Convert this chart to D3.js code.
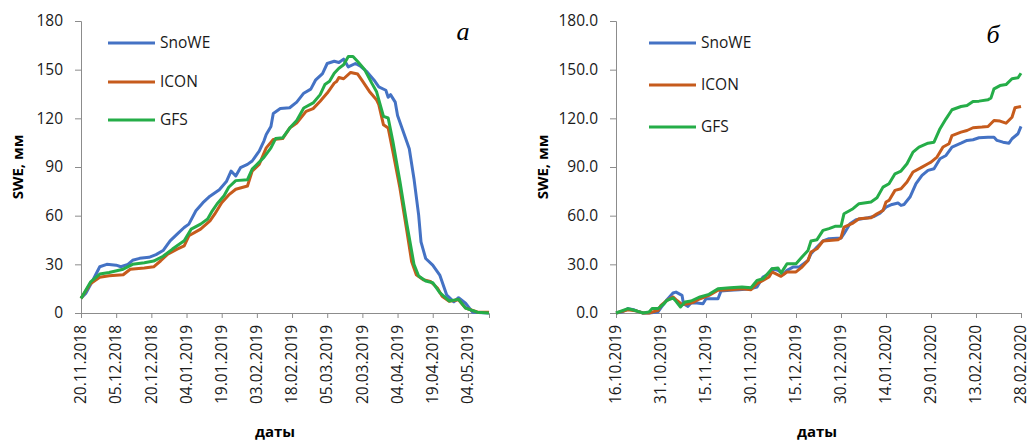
<!DOCTYPE html>
<html>
<head>
<meta charset="utf-8">
<script src="https://cdn.jsdelivr.net/npm/d3@7"></script>
<style>
  body { margin: 0; background: #fff; }
  svg { font-family: "Open Sans", "Noto Sans", sans-serif; }
  .tick text { fill: #1a1a1a; }
  .domain, .tick line { stroke: #8c8c8c; }
</style>
</head>
<body>
<div id="chart"></div>
<script>
// ---- data ----
var seriesNames = ["SnoWE", "ICON", "GFS"];
var seriesColors = ["#4472c4", "#c65b1c", "#25ad48"];
var yTicks = [0, 30, 60, 90, 120, 150, 180];

// panel a: days counted from 20.11.2018
var startA = new Date(2018, 10, 20);
var endDayA = 174;
var snoweDaysA = [0, 2, 5, 8, 11, 15, 17, 20, 22, 25, 29, 32, 35, 38, 41, 44, 46, 49, 52, 55, 59, 62, 64, 66, 68, 71, 73, 76, 78, 79, 81, 82, 85, 89, 92, 95, 98, 100, 103, 105, 108, 110, 112, 114, 117, 119, 122, 125, 127, 130, 131, 132, 134, 135, 137, 140, 142, 144, 145, 147, 150, 153, 156, 159, 161, 164, 167, 174];
var snoweValsA = [9.2, 12, 20, 28.5, 30, 29.5, 28.5, 30, 32.5, 33.7, 34.3, 36, 38.5, 44.5, 48.6, 52.7, 54.8, 63, 68, 72, 76, 81, 87.5, 84.5, 89.6, 91.6, 93.7, 99.8, 106, 110, 115, 123, 126, 126.5, 130, 135.5, 138, 143.5, 147.6, 153.8, 155.2, 154.4, 156.5, 151.7, 153.8, 152.3, 148.6, 143.5, 139.4, 137.3, 133, 134.6, 130, 121.8, 113.6, 101.3, 82.8, 60.3, 43.9, 33.6, 29.5, 23.4, 11, 6.9, 9.4, 6, 0.5, 0];
var iconDaysA = [0, 4, 8, 12, 18, 21, 27, 31, 34, 37, 41, 44, 46, 51, 55, 57, 60, 63, 66, 71, 73, 76, 79, 82, 86, 89, 92, 96, 99, 102, 105, 106, 108, 109, 110, 112, 115, 118, 120, 123, 126, 127, 129, 131, 133, 136, 139, 141, 143, 146, 149, 152, 154, 157, 161, 164, 169, 174];
var iconValsA = [9, 18, 22, 23, 23.6, 27, 27.7, 28.5, 32.2, 36.3, 39.4, 41.4, 47.6, 51.7, 56.8, 60.9, 68, 72.8, 76.3, 78.3, 87.5, 91.6, 101.8, 107, 107.5, 114, 117.1, 124.3, 126, 130.5, 135.6, 137.6, 141.7, 142.7, 145.2, 144.4, 148.3, 147.3, 143.1, 136.6, 131.5, 128.4, 116, 114, 99.6, 77, 50.3, 31.8, 23.6, 20.5, 19.5, 15.4, 10.3, 7.2, 8.2, 3, 0.6, 0.5];
var gfsDaysA = [0, 4, 8, 12, 18, 22, 27, 31, 35, 39, 44, 47, 51, 54, 56, 58, 61, 63, 66, 71, 73, 78, 81, 83, 86, 89, 92, 95, 99, 102, 104, 106, 108, 110, 112, 114, 116, 118, 121, 124, 126, 129, 131, 133, 136, 139, 142, 144, 147, 150, 153, 157, 161, 164, 169, 174];
var gfsValsA = [9, 19, 24, 25, 27, 30, 31, 32, 35, 39.4, 44.5, 51.7, 54.8, 57.9, 63, 67.2, 72.3, 77.5, 81.6, 82.2, 88.7, 95.9, 101.8, 107.5, 108, 114, 118.7, 126.4, 129.5, 134.6, 140.8, 142.8, 147.8, 150.9, 153, 158.1, 158.1, 155, 149.9, 141.7, 136.6, 121.2, 120.2, 105.9, 81.2, 54.6, 30, 22.8, 19.7, 18.7, 12.5, 7.4, 8.4, 3, 0.5, 0];

// panel b: days counted from 16.10.2019
var startB = new Date(2019, 9, 16);
var endDayB = 135;
var snoweDaysB = [0, 2, 4, 6, 7, 9, 11, 14, 15, 17, 19, 20, 22, 22.5, 24, 25, 27, 29, 30, 32, 34, 35, 38, 41, 45, 47, 49, 51, 52, 54, 56, 57, 59, 61, 64, 65, 67, 69, 71, 75, 76, 78, 80, 84, 86, 88, 90, 92, 94, 95, 96, 98, 100, 102, 104, 106, 108, 110, 112, 115, 117, 119, 121, 124, 126, 127, 129, 131, 132, 134, 135];
var snoweValsB = [0, 0.6, 2.7, 2, 1.2, 0, 0, 0.6, 3.3, 8.2, 12.3, 12.9, 10.9, 5.7, 4.1, 6.2, 6.2, 5.7, 8.8, 8.8, 8.8, 13.6, 14, 14.4, 15, 16, 22.2, 24.2, 27.3, 26.3, 24.2, 26.3, 28.3, 28.3, 32.4, 36.6, 40.7, 44.4, 45.8, 46.2, 48.9, 55, 57.5, 58.7, 59.5, 61.6, 65.3, 66.9, 67.8, 66.3, 66.9, 71.5, 79.7, 84.8, 87.9, 88.9, 95.1, 97.1, 102.3, 104.7, 106.4, 106.8, 108, 108.4, 108.4, 106.4, 105.3, 104.7, 107.4, 110.5, 115];
var iconDaysB = [0, 4, 7, 9, 11, 14, 15, 17, 19, 20, 22, 24, 26, 28, 31, 34, 38, 42, 45, 47, 49, 51, 52, 55, 57, 60, 62, 64, 65, 67, 69, 74, 75, 76, 79, 81, 85, 87, 89, 90, 91, 93, 95, 97, 99, 102, 104, 105, 107, 109, 111, 112, 115, 117, 119, 122, 124, 126, 128, 130, 132, 133, 135];
var iconValsB = [0, 2, 1.2, 0, 0, 1.6, 4.7, 7.8, 9.9, 8.2, 5.3, 5.7, 6.8, 8.8, 10.9, 14, 14.4, 15, 14.4, 18.1, 20.1, 22.2, 25.3, 22.6, 25.3, 25.3, 28.3, 32.4, 37.6, 39.6, 44.4, 45.2, 46.4, 53, 55.4, 58.1, 58.7, 61.2, 63.2, 68.4, 69.4, 75.6, 76.6, 80.7, 86.9, 89.9, 92, 93, 96.1, 102.3, 104.3, 109.4, 111.5, 112.5, 114.2, 114.6, 115, 118.7, 118.3, 117, 120.7, 126.5, 127.3];
var gfsDaysB = [0, 4, 7, 9, 11, 12, 14, 16, 17, 19, 20, 21.5, 23, 25, 28, 31, 34, 38, 42, 45, 47, 49, 52, 54, 55, 57, 60, 62, 64, 65, 67, 69, 71, 73, 75, 76, 79, 81, 85, 87, 89, 91, 93, 95, 97, 99, 101, 104, 106, 108, 110, 112, 115, 117, 119, 121, 124, 125, 126, 128, 130, 132, 134, 135];
var gfsValsB = [0, 2.7, 1.2, 0, 0.6, 2.7, 2.7, 5.7, 7.8, 9.2, 7.2, 3.7, 6.8, 7.4, 9.9, 11.5, 15, 15.6, 16, 15.6, 20.1, 21.1, 27.3, 27.7, 24.6, 30.4, 30.4, 34.5, 38.6, 44.4, 45.2, 50.9, 52, 53.4, 53.4, 61.2, 64.3, 67.4, 68.4, 71, 77.6, 79.7, 85.8, 87.5, 92, 99.2, 102.3, 104.7, 105.3, 113.6, 119.7, 125.3, 127.3, 127.9, 130.4, 130.6, 131.4, 132.6, 138.2, 140.2, 140.8, 144.4, 145, 147.8];

var svgWidth = 1030;
var svgHeight = 440;

var svg = d3.select("#chart")
  .append("svg")
  .attr("width", svgWidth)
  .attr("height", svgHeight);

// draws one panel
function drawPanel(p) {
  var xScale = d3.scaleTime()
    .domain([p.start, d3.timeDay.offset(p.start, p.endDay)])
    .range([p.x0, p.x1]);

  var yScale = d3.scaleLinear()
    .domain([0, 180])
    .range([313, 21]);

  var xTickDates = d3.range(0, p.endDay + 1, 15).map(d => d3.timeDay.offset(p.start, d));

  var bottomAxis = d3.axisBottom(xScale)
    .tickValues(xTickDates)
    .tickSize(5)
    .tickPadding(0)
    .tickFormat(d3.timeFormat("%d.%m.%Y"));

  var leftAxis = d3.axisLeft(yScale)
    .tickValues(yTicks)
    .tickSize(6)
    .tickPadding(12)
    .tickFormat(d3.format(p.yFormat));

  var xAxis = svg.append("g")
    .attr("transform", "translate(0, 313)")
    .call(bottomAxis);

  xAxis.selectAll("text")
    .attr("transform", "rotate(-90)")
    .attr("text-anchor", "end")
    .attr("x", -12)
    .attr("y", 0)
    .attr("dy", "0.3em")
    .attr("font-size", "15.5px")
    .attr("font-family", "'Open Sans', sans-serif");

  var yAxis = svg.append("g")
    .attr("transform", `translate(${p.x0}, 0)`)
    .call(leftAxis);

  yAxis.selectAll("text")
    .attr("font-size", "15.5px")
    .attr("font-family", "'Open Sans', sans-serif");

  // series lines, x given in days from the panel start
  var pxPerDay = xScale(d3.timeDay.offset(p.start, 1)) - xScale(p.start);
  var line = d3.line()
    .x(d => xScale(p.start) + pxPerDay * d[0])
    .y(d => yScale(d[1]));

  p.series.forEach(function(s, i) {
    var pts = s.days.map((d, j) => [d, s.vals[j]]);
    svg.append("path")
      .datum(pts)
      .attr("fill", "none")
      .attr("stroke", seriesColors[i])
      .attr("stroke-width", 3)
      .attr("stroke-linejoin", "round")
      .attr("d", line);
  });

  // legend
  seriesNames.forEach(function(name, i) {
    var ly = p.legendY[i];
    svg.append("line")
      .attr("x1", p.legendX)
      .attr("x2", p.legendX + 47)
      .attr("y1", ly)
      .attr("y2", ly)
      .attr("stroke", seriesColors[i])
      .attr("stroke-width", 3);
    svg.append("text")
      .attr("x", p.legendX + 52)
      .attr("y", ly)
      .attr("dy", "0.35em")
      .attr("font-size", "15.5px")
      .attr("fill", "#1a1a1a")
      .text(name);
  });

  // axis titles
  svg.append("text")
    .attr("transform", `translate(${p.yTitleX}, 167) rotate(-90)`)
    .attr("text-anchor", "middle")
    .attr("dy", "0.35em")
    .attr("font-size", "15px")
    .attr("font-weight", "bold")
    .text("SWE, мм");

  svg.append("text")
    .attr("x", p.xTitleX)
    .attr("y", 437)
    .attr("text-anchor", "middle")
    .attr("font-size", "15px")
    .attr("font-weight", "bold")
    .text("даты");

  // panel letter
  svg.append("text")
    .attr("x", p.letterX)
    .attr("y", p.letterY)
    .attr("text-anchor", "middle")
    .attr("font-family", "'Liberation Serif', 'DejaVu Serif', serif")
    .attr("font-style", "italic")
    .attr("font-size", "26px")
    .text(p.letter);
}

drawPanel({
  start: startA, endDay: endDayA, x0: 81, x1: 489, yFormat: "d",
  series: [
    { days: snoweDaysA, vals: snoweValsA },
    { days: iconDaysA, vals: iconValsA },
    { days: gfsDaysA, vals: gfsValsA }
  ],
  legendX: 108, legendY: [43, 82, 120],
  yTitleX: 18, xTitleX: 275, letter: "а", letterX: 463, letterY: 40
});

drawPanel({
  start: startB, endDay: endDayB, x0: 616, x1: 1021, yFormat: ".1f",
  series: [
    { days: snoweDaysB, vals: snoweValsB },
    { days: iconDaysB, vals: iconValsB },
    { days: gfsDaysB, vals: gfsValsB }
  ],
  legendX: 649, legendY: [43, 85, 127],
  yTitleX: 543, xTitleX: 817, letter: "б", letterX: 993, letterY: 43
});
</script>
</body>
</html>
